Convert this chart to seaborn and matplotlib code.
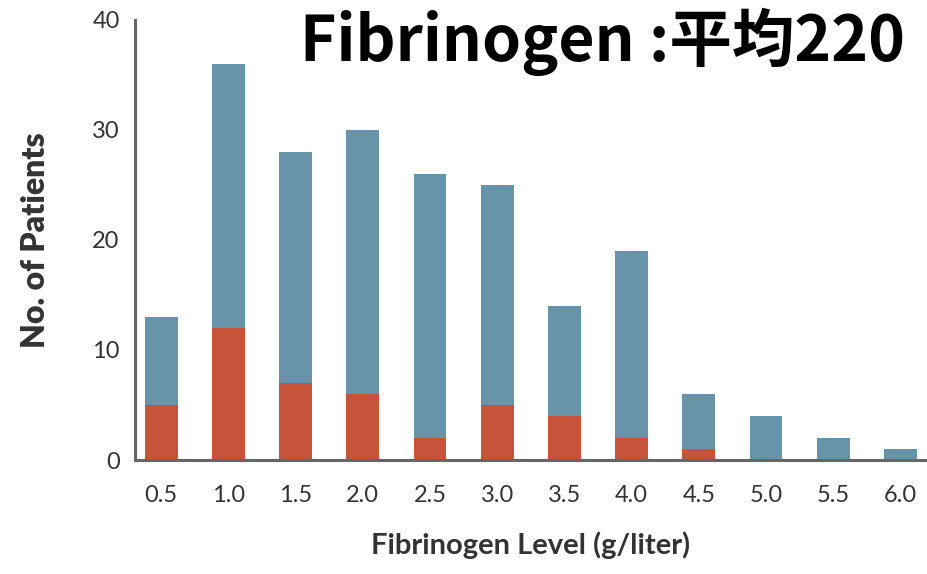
import matplotlib
matplotlib.use("Agg")
import matplotlib.pyplot as plt
import seaborn as sns
import pandas as pd

# values
levels = ["0.5", "1.0", "1.5", "2.0", "2.5", "3.0", "3.5", "4.0", "4.5", "5.0", "5.5", "6.0"]
total_patients = [13, 36, 28, 30, 26, 25, 14, 19, 6, 4, 2, 1]
red_patients = [5, 12, 7, 6, 2, 5, 4, 2, 1, 0, 0, 0]

df = pd.DataFrame({"level": levels, "total": total_patients, "red": red_patients})

sns.set_style("white")
plt.rcParams["font.family"] = ["Lato", "DejaVu Sans"]

blue = "#6894aa"
red = "#c7533a"

fig = plt.figure(figsize=(9.28, 5.74), dpi=100)
ax = fig.add_axes([0.1455, 0.1986, 0.8515, 0.7666])

# blue = all patients, red drawn on top from zero
sns.barplot(data=df, x="level", y="total", order=levels, color=blue,
            width=0.49, saturation=1, linewidth=0, ax=ax)
sns.barplot(data=df, x="level", y="red", order=levels, color=red,
            width=0.49, saturation=1, linewidth=0, ax=ax)

ax.set_ylim(0, 40)
ax.set_xlim(-0.39, 11.37)
ax.set_yticks([0, 10, 20, 30, 40])
sns.despine(ax=ax)
for s in ["left", "bottom"]:
    ax.spines[s].set_color("#666666")
    ax.spines[s].set_linewidth(2.2)

ax.tick_params(axis="both", which="both", direction="out", length=10, width=1.8,
               color="#444444", labelsize=17, labelcolor="#333333")
ax.tick_params(axis="x", pad=8)
ax.tick_params(axis="y", length=9, pad=2)

ax.set_xlabel("Fibrinogen Level (g/liter)", fontsize=21, fontweight="bold",
              color="#333333", labelpad=18)
ax.set_ylabel("No. of Patients", fontsize=23, fontweight="heavy",
              color="#333333", labelpad=30)

fig.text(0.649, 0.927, "Fibrinogen :平均220", ha="center", va="center",
         fontsize=45, fontweight="bold", color="black",
         family=["Noto Sans CJK JP", "DejaVu Sans"])

fig.savefig("out.png", dpi=100)
